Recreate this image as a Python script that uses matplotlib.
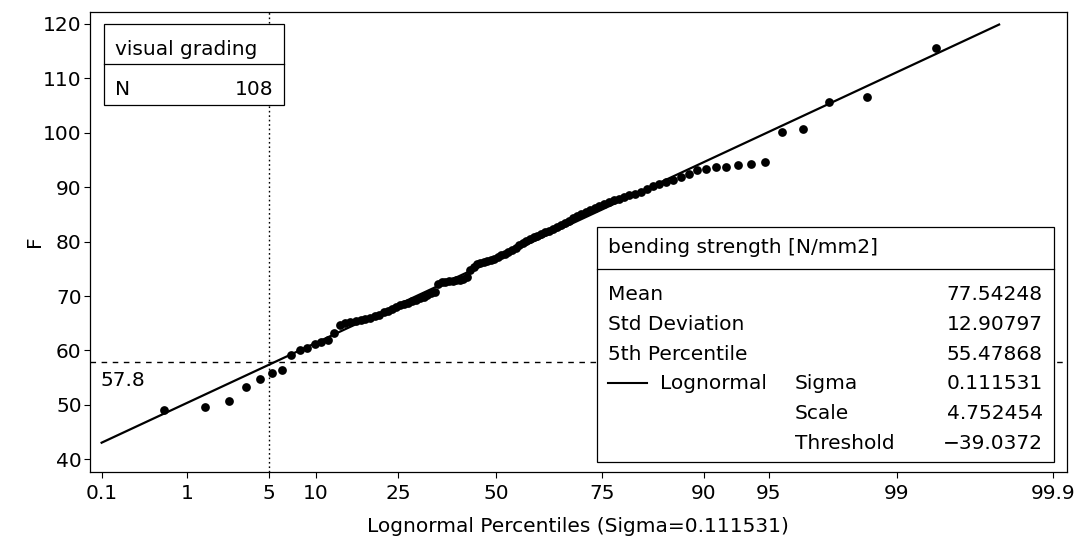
import numpy as np
import matplotlib
matplotlib.use("Agg")
import matplotlib.pyplot as plt
from matplotlib.patches import Rectangle
from matplotlib.lines import Line2D
from statistics import NormalDist

plt.rcParams['font.family'] = ['DejaVu Sans']

# ---------------- data (sorted bending strength, N = 108) ----------------
strength = [
    49.1, 49.6, 50.8, 53.2, 54.7, 55.9, 56.4, 59.2, 60.0, 60.4,
    61.1, 61.5, 61.9, 63.2, 64.7, 65.0, 65.2, 65.4, 65.6, 65.8,
    66.0, 66.3, 66.6, 67.0, 67.3, 67.6, 68.0, 68.3, 68.6, 68.8,
    69.0, 69.3, 69.6, 69.9, 70.2, 70.5, 70.8, 72.3, 72.5, 72.6,
    72.7, 72.8, 72.9, 73.0, 73.2, 73.5, 74.8, 75.4, 75.8, 76.1,
    76.3, 76.5, 76.7, 76.9, 77.2, 77.5, 77.8, 78.1, 78.5, 78.9,
    79.3, 79.7, 80.1, 80.5, 80.8, 81.1, 81.4, 81.7, 82.0, 82.3,
    82.6, 83.0, 83.4, 83.8, 84.3, 84.7, 85.0, 85.4, 85.8, 86.2,
    86.6, 87.0, 87.3, 87.6, 87.9, 88.2, 88.5, 88.8, 89.2, 89.7,
    90.2, 90.6, 91.0, 91.4, 91.9, 92.5, 93.2, 93.35, 93.7, 93.8,
    94.0, 94.3, 94.7, 100.1, 100.65, 105.7, 106.6, 115.5,
]

sigma = 0.111531
zeta = 4.752454
threshold = -39.0372
mean_v = "77.54248"
std_v = "12.90797"
p5_v = "55.47868"
sigma_v = "0.111531"
scale_v = "4.752454"
thresh_v = "\u221239.0372"
n_v = "108"
ref_y = 57.8
ref_pct = 5
line_pct = [0.1, 99.77]
x_ticks = [0.1, 1, 5, 10, 25, 50, 75, 90, 95, 99, 99.9]
x_tick_labels = ["0.1", "1", "5", "10", "25", "50", "75", "90", "95", "99", "99.9"]
y_ticks = [40, 50, 60, 70, 80, 90, 100, 110, 120]

# ---------------- lognormal probability scale ----------------
nd = NormalDist()
_ppf = np.vectorize(nd.inv_cdf, otypes=[float])
_cdf = np.vectorize(nd.cdf, otypes=[float])


def fwd(p):
    p = np.clip(np.asarray(p, dtype=float), 1e-7, 100 - 1e-7)
    return np.exp(sigma * _ppf(p / 100.0))


def inv(x):
    x = np.clip(np.asarray(x, dtype=float), 1e-9, None)
    return 100.0 * _cdf(np.log(x) / sigma)


W, H = 1081, 548
fig = plt.figure(figsize=(W / 100, H / 100), dpi=100)
fig.patch.set_facecolor("white")

L, R, T, B = 90, 1067, 11.7, 471.7
ax = fig.add_axes([L / W, 1 - B / H, (R - L) / W, (B - T) / H])
ax.set_xscale("function", functions=(fwd, inv))
ax.set_xlim(0.0688, 99.920)
ax.set_ylim(37.72, 122.26)

n = len(strength)
ranks = np.arange(1, n + 1)
pct = 100.0 * (ranks - 0.375) / (n + 0.25)

# fitted lognormal line
lp = np.array(line_pct)
ly = threshold + np.exp(zeta + sigma * _ppf(lp / 100.0))
ax.plot(lp, ly, color="black", lw=1.6, zorder=3)

ax.plot(pct, strength, linestyle="none", marker="o", ms=6.3, color="black",
        markeredgewidth=0, zorder=4)

# reference lines
ax.axvline(ref_pct, color="black", lw=1.0, linestyle=(0, (1.2, 2.0)), zorder=2)
ax.axhline(ref_y, color="black", lw=1.0, linestyle=(0, (4, 4)), zorder=2)

ax.set_xticks(x_ticks)
ax.set_xticklabels(x_tick_labels)
ax.xaxis.set_minor_locator(matplotlib.ticker.NullLocator())
ax.set_yticks(y_ticks)
ax.tick_params(axis="both", direction="out", length=4, width=0.8,
               labelsize=14.5, color="black")
ax.tick_params(axis="x", pad=5)
ax.tick_params(axis="y", pad=2)
for s in ax.spines.values():
    s.set_linewidth(0.9)
    s.set_color("black")


def fx(x):
    return x / W


def fy(y):
    return 1 - y / H


FS = 14.5


def box(x0, y0, x1, y1):
    fig.add_artist(Rectangle((fx(x0), fy(y1)), fx(x1) - fx(x0), fy(y0) - fy(y1),
                             transform=fig.transFigure, facecolor="white",
                             edgecolor="black", lw=0.9, zorder=5))


def hline(x0, x1, y, lw=0.9):
    fig.add_artist(Line2D([fx(x0), fx(x1)], [fy(y), fy(y)],
                          transform=fig.transFigure, color="black", lw=lw, zorder=6))


def txt(x, y, s, ha="left"):
    fig.text(fx(x), fy(y), s, ha=ha, va="baseline", fontsize=FS, zorder=7)


# label for reference line
txt(101, 386, f"{ref_y}")

# upper-left inset
box(104, 24, 284, 105)
hline(104, 284, 64.3)
txt(115, 55, "visual grading")
txt(115, 95, "N")
txt(273, 95, n_v, ha="right")

# statistics inset
box(597, 227, 1054, 462)
hline(597, 1054, 269.3)
txt(608, 253, "bending strength [N/mm2]")
rows = [300, 330, 359.5, 389, 419, 449]
txt(608, rows[0], "Mean")
txt(1043, rows[0], mean_v, ha="right")
txt(608, rows[1], "Std Deviation")
txt(1043, rows[1], std_v, ha="right")
txt(608, rows[2], "5th Percentile")
txt(1043, rows[2], p5_v, ha="right")
hline(608, 647, rows[3] - 6, lw=1.5)
txt(660, rows[3], "Lognormal")
txt(795, rows[3], "Sigma")
txt(1043, rows[3], sigma_v, ha="right")
txt(795, rows[4], "Scale")
txt(1043, rows[4], scale_v, ha="right")
txt(795, rows[5], "Threshold")
txt(1043, rows[5], thresh_v, ha="right")

# axis titles
fig.text(fx(578), fy(526), "Lognormal Percentiles (Sigma=0.111531)",
         ha="center", va="center", fontsize=FS)
fig.text(fx(34), fy(241), "F", ha="center", va="center", rotation=90, fontsize=FS)

fig.savefig("out.png", dpi=100, facecolor="white")
